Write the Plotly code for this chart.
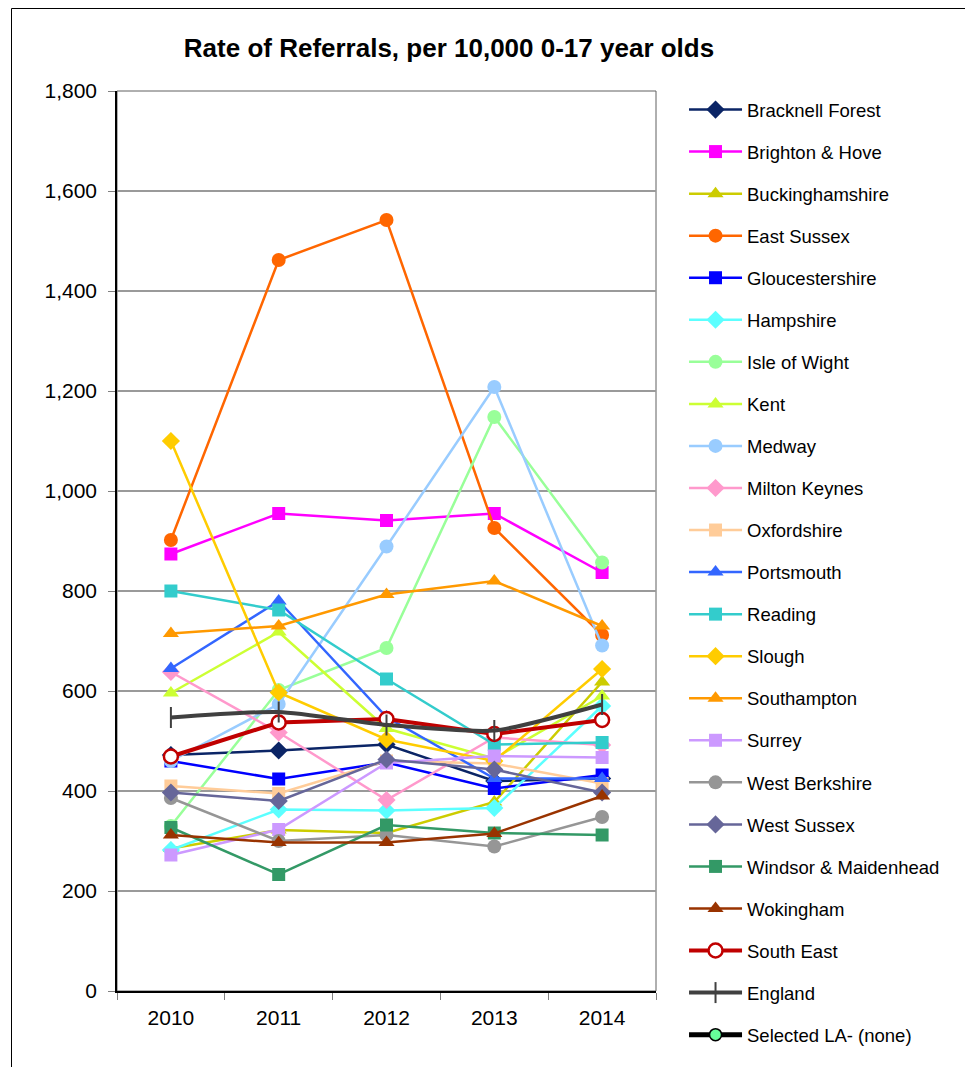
import plotly.graph_objects as go

years = ["2010", "2011", "2012", "2013", "2014"]

bracknell_forest = [472, 481, 493, 420, 425]
brighton_hove = [874, 955, 941, 955, 837]
buckinghamshire = [285, 322, 316, 378, 618]
east_sussex = [902, 1462, 1542, 926, 712]
gloucestershire = [460, 424, 457, 405, 432]
hampshire = [282, 363, 361, 366, 570]
isle_of_wight = [330, 602, 686, 1148, 857]
kent = [596, 718, 525, 465, 590]
medway = [460, 574, 889, 1208, 691]
milton_keynes = [638, 517, 382, 507, 492]
oxfordshire = [410, 395, 460, 455, 415]
portsmouth = [645, 780, 548, 425, 425]
reading = [800, 762, 624, 493, 497]
slough = [1100, 597, 503, 460, 644]
southampton = [715, 730, 793, 820, 730]
surrey = [272, 323, 456, 470, 467]
west_berkshire = [386, 300, 312, 289, 348]
west_sussex = [397, 380, 463, 443, 397]
windsor_maidenhead = [327, 233, 332, 316, 312]
wokingham = [312, 297, 297, 315, 390]
south_east = [469, 537, 544, 514, 542]
england = [547, 558, 532, 521, 573]
selected_la = [None]

series = [
    ("Bracknell Forest", bracknell_forest, "#0B2566", "diamond", 14),
    ("Brighton & Hove", brighton_hove, "#FF00FF", "square", 13),
    ("Buckinghamshire", buckinghamshire, "#CCCC00", "triangle-up", 14),
    ("East Sussex", east_sussex, "#FF6600", "circle", 14),
    ("Gloucestershire", gloucestershire, "#0000FF", "square", 13),
    ("Hampshire", hampshire, "#5CFFFF", "diamond", 14),
    ("Isle of Wight", isle_of_wight, "#99FF99", "circle", 14),
    ("Kent", kent, "#CCFF33", "triangle-up", 14),
    ("Medway", medway, "#99CCFF", "circle", 14),
    ("Milton Keynes", milton_keynes, "#FF99CC", "diamond", 14),
    ("Oxfordshire", oxfordshire, "#FFCC99", "square", 13),
    ("Portsmouth", portsmouth, "#3366FF", "triangle-up", 14),
    ("Reading", reading, "#33CCCC", "square", 13),
    ("Slough", slough, "#FFCC00", "diamond", 14),
    ("Southampton", southampton, "#FF9900", "triangle-up", 14),
    ("Surrey", surrey, "#CC99FF", "square", 13),
    ("West Berkshire", west_berkshire, "#969696", "circle", 14),
    ("West Sussex", west_sussex, "#666699", "diamond", 14),
    ("Windsor & Maidenhead", windsor_maidenhead, "#339966", "square", 13),
    ("Wokingham", wokingham, "#993300", "triangle-up", 14),
]

FONT = "Arial, Liberation Sans, sans-serif"

fig = go.Figure()
for i, (name, vals, col, sym, sz) in enumerate(series):
    fig.add_trace(go.Scatter(
        x=years, y=vals, name=name, mode="lines+markers",
        line=dict(color=col, width=2.5),
        marker=dict(symbol=sym, size=sz, color=col),
        legendgroup="g%d" % i,
    ))

fig.add_trace(go.Scatter(
    x=years, y=south_east, name="South East", mode="lines+markers",
    line=dict(color="#C00000", width=4),
    marker=dict(symbol="circle", size=14, color="white",
                line=dict(color="#C00000", width=2.5)),
    legendgroup="g20",
))
fig.add_trace(go.Scatter(
    x=years, y=england, name="England", mode="lines+markers",
    line=dict(color="#404040", width=4, shape="spline", smoothing=0.6),
    marker=dict(symbol="line-ns", size=15, color="#404040",
                line=dict(color="#404040", width=2)),
    legendgroup="g21",
))
fig.add_trace(go.Scatter(
    x=years[:1], y=selected_la, name="Selected LA- (none)", mode="lines+markers",
    line=dict(color="black", width=5),
    marker=dict(symbol="circle", size=12, color="#66FF99",
                line=dict(color="black", width=1.5)),
    legendgroup="g22",
))

W, H = 965, 1059
L, T, R, B = 109, 83, 317, 76
PW = W - L - R
PH = H - T - B

fig.update_layout(
    width=W, height=H,
    paper_bgcolor="white", plot_bgcolor="white",
    margin=dict(l=L, r=R, t=T, b=B),
    font=dict(family=FONT, color="black"),
    title=dict(text="<b>Rate of Referrals, per 10,000 0-17 year olds</b>",
               font=dict(size=26, family=FONT, color="black"),
               x=0.457, xref="container", xanchor="center",
               y=1 - 40 / H, yref="container", yanchor="middle"),
    showlegend=True,
    legend=dict(x=1.052, xanchor="left", y=1.0, yanchor="top",
                font=dict(size=18.5, family=FONT, color="black"),
                traceorder="grouped", tracegroupgap=15,
                itemwidth=53, bgcolor="rgba(0,0,0,0)", maxheight=1000),
    xaxis=dict(type="category", range=[-0.5, 4.5], showgrid=False, showline=True,
               linecolor="black", linewidth=1.5,
               ticks="outside", tickson="boundaries", ticklen=7,
               tickcolor="#808080", tickwidth=1, ticklabelstandoff=7,
               tickfont=dict(size=21, family=FONT, color="black")),
    yaxis=dict(range=[0, 1800], dtick=200, tickformat=",",
               showgrid=True, gridcolor="#9A9A9A", gridwidth=2,
               showline=True, linecolor="black", linewidth=1.5,
               zeroline=False,
               ticks="outside", ticklen=7, tickcolor="#808080", tickwidth=1,
               ticklabelstandoff=7,
               tickfont=dict(size=21, family=FONT, color="black")),
    shapes=[
        dict(type="rect", xref="x domain", yref="y domain",
             x0=0, x1=1, y0=0, y1=1, line=dict(color="#606060", width=1),
             layer="below"),
        dict(type="rect", xref="paper", yref="paper",
             x0=(3.5 - L) / PW, x1=(990 - L) / PW,
             y0=(T + PH - 1100) / PH, y1=(T + PH - 0.5) / PH,
             line=dict(color="black", width=1), layer="below"),
    ],
)

fig.write_html("out.html")
